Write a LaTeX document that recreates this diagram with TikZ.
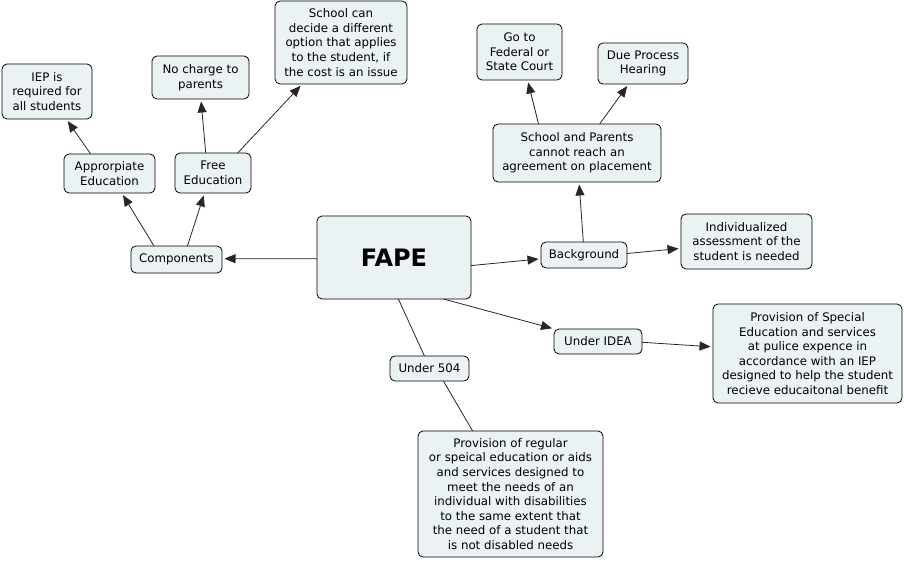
\documentclass[tikz,border=0pt]{standalone}
\usepackage{fontspec}
\setmainfont{DejaVu Sans}
\usepackage{tikz}
\usetikzlibrary{arrows.meta}
\definecolor{boxfill}{HTML}{EBF2F4}
\tikzset{concept/.style={draw=black,fill=boxfill,rounded corners=5pt,line width=0.8pt,align=center,inner sep=2pt,outer sep=0pt,font=\fontsize{11.8}{14.6}\selectfont},
         link/.style={draw=black!85,line width=0.8pt,-{Triangle[length=11pt,width=9pt]},shorten >=2.5pt},
         plainlink/.style={draw=black!85,line width=0.8pt}}

\begin{document}
\begin{tikzpicture}[x=1pt,y=-1pt]
                                     \useasboundingbox (0,0) rectangle (904,561);
                                     \node[concept,minimum width=154pt,minimum height=83pt,font=\fontsize{24}{28}\selectfont\bfseries](fape)at(394,257.5){FAPE};
                                     \node[concept,minimum width=91pt,minimum height=27pt](comp)at(176.5,259.5){Components};
                                     \node[concept,minimum width=91pt,minimum height=39pt](approp)at(109.5,173.5){Approrpiate\\Education};
                                     \node[concept,minimum width=76pt,minimum height=40pt](free)at(213,173){Free\\Education};
                                     \node[concept,minimum width=90pt,minimum height=55pt](iep)at(47,91.5){IEP is\\required for\\all students};
                                     \node[concept,minimum width=97pt,minimum height=43pt](nocharge)at(200.5,77.5){No charge to\\parents};
                                     \node[concept,minimum width=132pt,minimum height=83pt](cost)at(341,42.5){School can\\decide a different\\option that applies\\to the student, if\\the cost is an issue};
                                     \node[concept,minimum width=86pt,minimum height=26pt](backgr)at(584,255){Background};
                                     \node[concept,minimum width=131pt,minimum height=55pt](indiv)at(746.5,241.5){Individualized\\assessment of the\\student is needed};
                                     \node[concept,minimum width=168pt,minimum height=58pt](noagree)at(577,153){School and Parents\\cannot reach an\\agreement on placement};
                                     \node[concept,minimum width=85pt,minimum height=56pt](court)at(519.5,52){Go to\\Federal or\\State Court};
                                     \node[concept,minimum width=90pt,minimum height=41pt](hearing)at(643,63.5){Due Process\\Hearing};
                                     \node[concept,minimum width=88pt,minimum height=25pt](idea)at(598,341.5){Under IDEA};
                                     \node[concept,minimum width=189pt,minimum height=99pt](special)at(807.5,353.5){Provision of Special\\Education and services\\at pulice expence in\\accordance with an IEP\\designed to help the student\\recieve educaitonal benefit};
                                     \node[concept,minimum width=79pt,minimum height=25pt](u504)at(429.5,368.5){Under 504};
                                     \node[concept,minimum width=185pt,minimum height=126pt](regular)at(510.5,494){Provision of regular\\or speical education or aids\\and services designed to\\meet the needs of an\\individual with disabilities\\to the same extent that\\the need of a student that\\is not disabled needs};
                                     \draw[link](fape.181)--(comp.1);
                                     \draw[link](comp.149)--(approp.-58);
                                     \draw[link](comp.51)--(free.-113);
                                     \draw[link](approp.134)--(iep.-55);
                                     \draw[link](free.110)--(nocharge.-89);
                                     \draw[link](free.39)--(cost.-133);
                                     \draw[link](fape.-6)--(backgr.185);
                                     \draw[link](backgr.93)--(noagree.-86);
                                     \draw[link](noagree.143)--(court.-74);
                                     \draw[link](noagree.52)--(hearing.-125);
                                     \draw[link](backgr.2)--(indiv.186);
                                     \draw[link](fape.-40)--(idea.164);
                                     \draw[link](idea.-1)--(special.176);
                                     \draw[plainlink](fape.-84)--(u504.112);
                                     \draw[plainlink](u504.-42)--(regular.121);
                                 \end{tikzpicture}
\end{document}
